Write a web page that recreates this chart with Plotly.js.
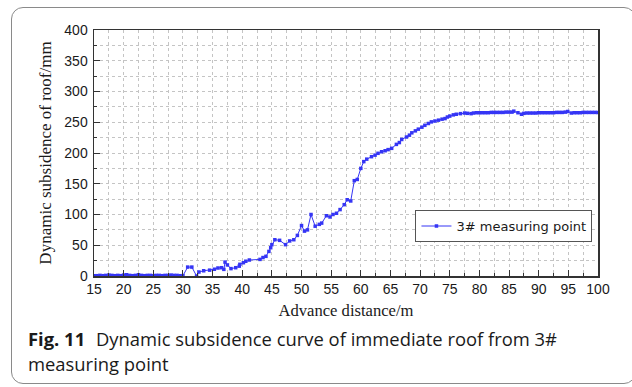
<!DOCTYPE html>
<html>
<head>
<meta charset="utf-8">
<script src="https://cdn.plot.ly/plotly-3.0.1.min.js"></script>
<style>
  html, body { margin: 0; padding: 0; background: #ffffff; }
  #wrap { position: relative; width: 632px; height: 387px; overflow: hidden; }
  #frame {
    position: absolute; left: 11px; top: 7px; width: 625px; height: 377px;
    box-sizing: border-box; border: 1px solid #8a8a8a; border-radius: 12px;
  }
  #chart { position: absolute; left: 0; top: 0; width: 632px; height: 387px; }
  #caption {
    position: absolute; left: 28px; top: 326px; width: 600px;
    font-family: "Open Sans", "Noto Sans", sans-serif; font-size: 18.4px;
    line-height: 25px; color: #1a1a1a;
  }
  #caption b { font-weight: 700; margin-right: 6px; }
</style>
</head>
<body>
<div id="wrap">
  <div id="frame"></div>
  <div id="chart"></div>
  <div id="caption"><b>Fig. 11</b> Dynamic subsidence curve of immediate roof from 3#<br>measuring point</div>
</div>
<script>
// Advance distance of the working face (m)
const advance = [
  15, 15.5, 16, 16.5, 17, 17.5, 18, 18.5, 19, 19.5, 20, 20.5, 21, 21.5, 22, 22.5,
  23, 23.5, 24, 24.5, 25, 25.5, 26, 26.5, 27, 27.5, 28, 28.5, 29, 29.5, 30,
  30.8, 31.5, 32.3, 32.7, 33.5, 34.5, 35.3, 35.9, 36.5, 36.9, 37.1, 37.5, 38.1, 38.9,
  39.5, 39.6, 40.2, 40.6, 41.2, 43, 43.5, 44, 44.5, 44.8, 45, 45.5, 46.3, 47.3, 48,
  48.7, 49.3, 50, 50.5, 51, 51.6, 52.3, 53, 53.4, 54.2, 54.8, 55.3, 55.9, 56.5,
  57.2, 57.7, 58.3, 58.9, 59.4, 60, 60.5, 61, 61.8, 62.4, 62.9, 63.5, 64.1, 64.6,
  65.2, 66, 66.5, 66.9, 67.7, 68.2, 68.6, 69.2, 69.7, 70.3, 70.8, 71.4, 71.9, 72.5,
  73.1, 73.7, 74.2, 74.6, 75, 75.6, 76.1, 76.8, 77.5, 78, 78.6,
  79, 79.5, 80, 80.5, 81, 81.5, 82, 82.5, 83, 83.5, 84, 84.5, 85, 85.5, 85.8,
  86.5, 87.1, 87.5, 88, 88.5, 89, 89.5, 90, 90.5, 91, 91.5, 92, 92.5, 93, 93.5,
  94, 94.5, 94.9, 95.5, 96, 96.5, 97, 97.5, 98, 98.5, 99, 99.5, 100
];

// Dynamic subsidence of the roof at measuring point 3# (mm)
const subsidence = [
  0.5, 0.5, 1, 0.5, 1, 1.5, 1, 0.5, 1, 0.5, 1.5, 2, 1, 0.5, 1, 2,
  1, 0.5, 1, 1, 0.5, 1, 1, 0.5, 1, 1, 1.5, 1, 1, 0.5, 0.5,
  14.5, 14.5, 0, 6.5, 8.5, 9.5, 11, 13, 13.5, 10.8, 22.6, 18, 12, 13.5,
  16, 19, 21.6, 24, 26, 27, 30, 32, 40, 46, 51, 59, 58, 51, 57,
  59, 66, 82, 73, 75, 100, 81, 84, 86, 98, 96, 100, 102, 108,
  116, 124, 122, 155, 157, 175, 186, 190, 194, 196.5, 199.5, 202, 203.7, 205.5,
  207.6, 214, 217, 222, 226, 229, 232.8, 236, 238.8, 242, 245, 248, 250.6, 252,
  253.4, 255, 256, 258.5, 260, 262, 263, 264, 265, 264.5, 264,
  265, 265.5, 265.5, 265.5, 265.5, 265.5, 266, 266, 266, 266, 266, 266.5, 266.5, 266.5, 268,
  265.5, 263, 264.5, 265, 265, 265, 265, 265.5, 265.5, 265.5, 265.5, 265.5, 265.5, 266, 266,
  266, 266.5, 267.5, 265, 265.5, 265.5, 265.5, 266, 266, 266, 266, 266, 266
];

const seriesName = '3# measuring point';

const lineColor = '#3535f5';
const gridColor = '#c4c4c4';
const axisColor = '#333333';

const trace = {
  x: advance,
  y: subsidence,
  type: 'scatter',
  mode: 'lines+markers',
  name: seriesName,
  line: { color: lineColor, width: 1 },
  marker: { symbol: 'square', size: 3.5, color: lineColor }
};

const tickFont = { family: 'Liberation Sans, Arial, sans-serif', size: 14, color: '#1a1a1a' };

const layout = {
  width: 632,
  height: 387,
  margin: { l: 93.5, r: 33.5, t: 29.5, b: 110.5, pad: 0 },
  paper_bgcolor: 'rgba(0,0,0,0)',
  plot_bgcolor: '#ffffff',
  showlegend: true,
  legend: {
    x: 0.989, xanchor: 'right',
    y: 0.203, yanchor: 'middle',
    bgcolor: '#ffffff',
    bordercolor: '#555555',
    borderwidth: 1,
    font: { family: 'DejaVu Sans, Verdana, sans-serif', size: 13, color: '#1a1a1a' },
    itemwidth: 30
  },
  xaxis: {
    range: [15, 100],
    dtick: 5,
    tick0: 15,
    ticks: 'inside',
    ticklen: 6,
    tickwidth: 1,
    tickcolor: axisColor,
    showline: true,
    linecolor: axisColor,
    linewidth: 1.5,
    mirror: true,
    showgrid: true,
    gridcolor: gridColor,
    griddash: 'dot',
    gridwidth: 1,
    zeroline: false,
    tickfont: tickFont,
    minor: {
      dtick: 2.5,
      ticks: 'inside',
      ticklen: 3,
      tickcolor: axisColor,
      showgrid: true,
      gridcolor: gridColor,
      griddash: 'dot',
      gridwidth: 1
    },
    title: {
      text: 'Advance distance/m',
      font: { family: 'Liberation Serif, Times New Roman, serif', size: 16.6, color: '#1a1a1a' },
      standoff: 8
    },
    automargin: false
  },
  yaxis: {
    range: [0, 400],
    dtick: 50,
    ticks: 'inside',
    ticklen: 6,
    tickwidth: 1,
    tickcolor: axisColor,
    showline: true,
    linecolor: axisColor,
    linewidth: 1.5,
    mirror: true,
    showgrid: true,
    gridcolor: gridColor,
    griddash: 'dot',
    gridwidth: 1,
    zeroline: false,
    tickfont: tickFont,
    ticklabelstandoff: 2,
    minor: {
      dtick: 25,
      ticks: 'inside',
      ticklen: 3,
      tickcolor: axisColor,
      showgrid: true,
      gridcolor: gridColor,
      griddash: 'dot',
      gridwidth: 1
    },
    title: {
      text: 'Dynamic subsidence of roof/mm',
      font: { family: 'Liberation Serif, Times New Roman, serif', size: 17, color: '#1a1a1a' },
      standoff: 8
    },
    automargin: false
  }
};

Plotly.newPlot('chart', [trace], layout, { displayModeBar: false, staticPlot: true });
</script>
</body>
</html>
